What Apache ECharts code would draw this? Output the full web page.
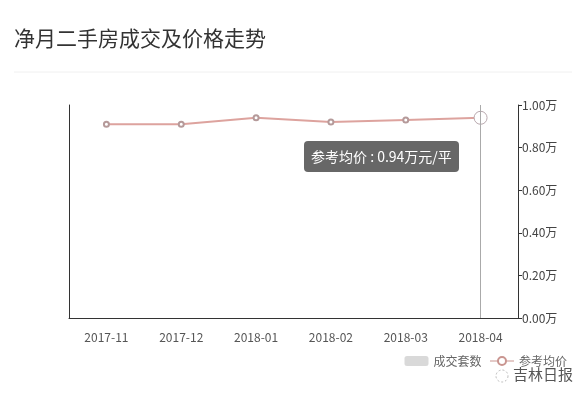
<!DOCTYPE html>
<html>
<head>
<meta charset="utf-8">
<script src="https://cdn.jsdelivr.net/npm/echarts@6/dist/echarts.min.js"></script>
<style>
  html, body { margin: 0; padding: 0; background: #fff; }
  #chart { width: 586px; height: 404px; }
</style>
</head>
<body>
<div id="chart"></div>
<script>
// 月份
const months = ['2017-11', '2017-12', '2018-01', '2018-02', '2018-03', '2018-04']
// 成交套数（图中无柱）
const dealCounts = [0, 0, 0, 0, 0, 0]
// 参考均价（万元/平）
const avgPrices = [0.91, 0.91, 0.94, 0.92, 0.93, 0.94]
// 右轴刻度
const priceTicks = [0, 0.2, 0.4, 0.6, 0.8, 1.0]

const chart = echarts.init(document.getElementById('chart'))
const font = '"Noto Sans CJK SC", "Microsoft YaHei", sans-serif'

const option = {
  animation: false,
  textStyle: { fontFamily: font },
  title: {
    text: '净月二手房成交及价格走势',
    left: 9,
    top: 23,
    textStyle: { fontSize: 21, fontWeight: 'normal', color: '#333', fontFamily: font }
  },
  graphic: [
    {
      type: 'line',
      shape: { x1: 14, y1: 72, x2: 572, y2: 72 },
      style: { stroke: '#f0f0f0', lineWidth: 1 }
    },
    {
      type: 'circle',
      shape: { cx: 502, cy: 376, r: 6 },
      style: { fill: 'none', stroke: '#aaa', lineWidth: 0.8, lineDash: [2, 2] }
    },
    {
      type: 'text',
      left: 513,
      top: 367,
      style: { text: '吉林日报', fill: '#555', fontSize: 15, fontFamily: font }
    }
  ],
  tooltip: {
    trigger: 'axis',
    alwaysShowContent: true,
    transitionDuration: 0,
    backgroundColor: 'rgba(95,95,95,0.95)',
    borderWidth: 0,
    borderRadius: 4,
    padding: [5, 7],
    extraCssText: 'box-shadow:none;',
    textStyle: { color: '#fff', fontSize: 14, fontFamily: font },
    position: [304, 141],
    axisPointer: {
      type: 'line',
      lineStyle: { color: '#aaa', width: 1, type: 'solid' }
    },
    formatter: function (params) {
      const p = params.find(item => item.seriesName === '参考均价')
      return '参考均价 : ' + p.value + '万元/平'
    }
  },
  legend: {
    top: 350,
    right: 14,
    itemWidth: 24,
    itemHeight: 10,
    itemGap: 8,
    textStyle: { color: '#666', fontSize: 12 },
    data: [
      { name: '成交套数' },
      { name: '参考均价', itemStyle: { color: '#c99590', borderWidth: 1 }, lineStyle: { width: 1 } }
    ]
  },
  grid: { left: 69, right: 68, top: 105, bottom: 86 },
  xAxis: {
    type: 'category',
    data: months,
    boundaryGap: true,
    axisLine: { lineStyle: { color: '#333' } },
    axisTick: { length: 5, lineStyle: { color: '#333' } },
    axisLabel: { color: '#555', fontSize: 12, margin: 13 }
  },
  yAxis: [
    {
      type: 'value',
      position: 'left',
      axisLine: { show: true, lineStyle: { color: '#333' } },
      axisTick: { show: false },
      axisLabel: { show: false },
      splitLine: { show: false }
    },
    {
      type: 'value',
      position: 'right',
      min: priceTicks[0],
      max: priceTicks[priceTicks.length - 1],
      interval: 0.2,
      axisLine: { show: true, lineStyle: { color: '#333' } },
      axisTick: { show: true, length: 4, lineStyle: { color: '#333' } },
      axisLabel: {
        color: '#444',
        fontSize: 12,
        margin: 4,
        formatter: v => v.toFixed(2) + '万'
      },
      splitLine: { show: false }
    }
  ],
  series: [
    {
      name: '成交套数',
      type: 'bar',
      yAxisIndex: 0,
      data: dealCounts,
      itemStyle: { color: '#d9d9d9' }
    },
    {
      name: '参考均价',
      type: 'line',
      yAxisIndex: 1,
      data: avgPrices,
      symbol: 'emptyCircle',
      symbolSize: 5,
      lineStyle: { color: '#c99590', width: 2 },
      itemStyle: { color: '#b59a9a', borderWidth: 1 },
      emphasis: {
        scale: 2.6,
        itemStyle: { color: '#fff', borderColor: '#b8a8ae', borderWidth: 1 }
      }
    }
  ]
}

chart.setOption(option)
chart.dispatchAction({ type: 'showTip', seriesIndex: 1, dataIndex: 5 })
</script>
</body>
</html>
